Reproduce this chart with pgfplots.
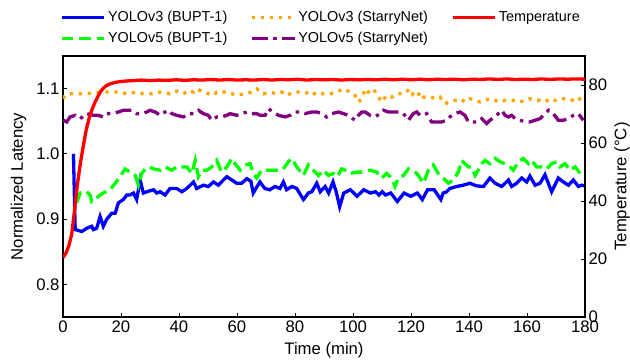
\documentclass[border=0pt]{standalone}
\usepackage{fontspec}
\setmainfont{Liberation Sans}
\usepackage{pgfplots}
\pgfplotsset{compat=1.18}
\definecolor{myorange}{RGB}{255,165,0}
\definecolor{mypurple}{RGB}{128,0,128}
\definecolor{mygreen}{RGB}{0,255,0}
\definecolor{myblue}{RGB}{0,0,255}
\definecolor{myred}{RGB}{255,0,0}
\newcommand{\lblfont}{\fontsize{16.7}{20}\selectfont}
\newcommand{\legfont}{\fontsize{14.4}{16}\selectfont}
\pgfplotsset{
  commonstyle/.style={
    at={(0pt,0pt)}, anchor=south west,
    scale only axis, width=522pt, height=261pt,
    xmin=0, xmax=180,
    tick align=inside, major tick length=4pt,
    tick style={black, line width=0.8pt},
    axis line style={line width=1.1pt},
    ticklabel style={font=\lblfont},
    label style={font=\lblfont},
    /pgf/number format/assume math mode=true,
  },
  lw/.style={line width=3.3pt},
}
\begin{document}
\begin{tikzpicture}
\useasboundingbox (-63pt,-43pt) rectangle (567pt,317pt);
\begin{axis}[commonstyle,
  ymin=0.75, ymax=1.15,
  xtick={0,20,...,180}, ytick={0.8,0.9,1.0,1.1},
  yticklabel style={/pgf/number format/.cd,fixed,fixed zerofill,precision=1},
  ytick pos=left, xtick pos=bottom,
  xlabel={Time (min)}, ylabel={Normalized Latency},
  xlabel style={at={(axis description cs:0.5,-0.1264)}, anchor=center},
  ylabel style={at={(axis description cs:-0.0852,0.5)}, anchor=center},
  legend columns=3,
  legend cell align=left,
  legend image code/.code={\draw[#1] (0pt,0pt) -- (32pt,0pt); \path (0pt,0pt) -- (42.7pt,0pt);},
  legend style={draw=none, fill=none, font=\legfont,
    at={(axis description cs:-0.006,1.180)}, anchor=north west,
    inner sep=0pt, row sep=5.3pt,
    /tikz/every even column/.append style={column sep=21pt}},
]
\addplot[myblue, lw] coordinates {
(3.6,1.000) (4.2,0.884) (6.5,0.881) (8.2,0.886) (9.9,0.889) (10.5,0.884) (11.6,0.886) (12.8,0.904) (13.9,0.889) (15.1,0.900)
(16.8,0.909) (18.0,0.909) (19.1,0.925) (20.8,0.930) (22.0,0.937) (23.1,0.937) (24.3,0.940) (25.4,0.930) (26.6,0.960) (27.7,0.940)
(28.9,0.942) (31.2,0.945) (32.3,0.940) (33.5,0.942) (35.2,0.937) (36.9,0.947) (39.2,0.947) (41.0,0.942) (42.7,0.947) (45.0,0.957)
(46.1,0.947) (48.4,0.952) (50.1,0.950) (51.9,0.957) (53.6,0.952) (55.3,0.960) (56.5,0.965) (58.2,0.960) (59.9,0.955) (61.6,0.955)
(63.4,0.962) (64.8,0.958) (65.6,0.940) (67.9,0.957) (69.6,0.947) (71.3,0.945) (73.1,0.950) (74.8,0.947) (76.0,0.957) (77.1,0.945)
(78.9,0.950) (80.6,0.947) (82.9,0.930) (84.6,0.940) (85.8,0.942) (87.5,0.955) (88.7,0.942) (90.4,0.950) (91.6,0.940) (93.1,0.957)
(94.2,0.942) (95.4,0.919) (96.8,0.940) (99.1,0.945) (101.4,0.935) (103.7,0.945) (106.0,0.940) (107.8,0.942) (108.9,0.937) (110.1,0.942)
(111.2,0.937) (113.0,0.940) (115.3,0.927) (117.6,0.940) (119.9,0.935) (122.2,0.940) (123.9,0.930) (125.7,0.945) (128.0,0.945) (130.3,0.930)
(131.1,0.940) (132.3,0.942) (133.4,0.947) (135.7,0.950) (138.0,0.952) (140.3,0.955) (142.6,0.951) (145.0,0.950) (147.2,0.963) (149.0,0.955)
(151.3,0.950) (153.6,0.960) (154.7,0.950) (156.4,0.955) (158.2,0.963) (159.9,0.957) (161.0,0.966) (162.8,0.952) (164.5,0.955) (166.2,0.968)
(168.5,0.942) (170.8,0.963) (172.5,0.957) (174.3,0.952) (176.0,0.960) (177.7,0.950) (178.9,0.952) (179.7,0.951)
};
\addlegendentry{YOLOv3 (BUPT-1)}
\addplot[myorange, lw, dash pattern=on 3.3pt off 5.6pt] coordinates {
(0,1.0846) (0.7,1.0896) (2.4,1.092) (5.9,1.092) (10.5,1.093) (13.9,1.0947) (17.4,1.0947) (19.7,1.0947) (22,1.092) (25.4,1.0947)
(27.7,1.092) (30.6,1.092) (33.5,1.0947) (36.9,1.092) (39.2,1.0962) (41.5,1.092) (43.3,1.0973) (45,1.0947) (46.1,1.0998) (48.4,1.0947)
(51.9,1.0896) (53,1.0947) (56.5,1.0947) (59.9,1.0896) (62.2,1.092) (65.1,1.0947) (66.8,1.0998) (69.1,1.092) (71.4,1.0947) (73.7,1.092)
(75.4,1.0947) (77.1,1.0896) (79.4,1.0947) (81.7,1.0947) (83.5,1.0947) (85.8,1.0896) (87.5,1.0947) (89.8,1.092) (92.1,1.092) (94.4,1.0947)
(95.5,1.0973) (96.7,1.0998) (99,1.0947) (100.7,1.0896) (101.9,1.0795) (103,1.0846) (104.2,1.0998) (105.3,1.0947) (107,1.0998) (108.8,1.087)
(109.9,1.0795) (111.6,1.0896) (113.4,1.087) (115.1,1.092) (117.4,1.092) (119.7,1.0998) (120.8,1.0896) (122,1.087) (123.1,1.0947) (124.3,1.087)
(126.6,1.087) (128.9,1.0846) (130,1.087) (131.7,1.077) (133.4,1.0795) (135.2,1.082) (136.9,1.0846) (138.6,1.0795) (140.3,1.0846) (142.1,1.082)
(143.8,1.0795) (145.5,1.082) (147.2,1.0846) (149,1.082) (150.7,1.0795) (152.4,1.082) (154.1,1.082) (155.9,1.082) (157.6,1.0795) (159.3,1.082)
(161,1.0846) (162.8,1.082) (164.5,1.082) (166.2,1.0795) (167.9,1.0846) (169.7,1.082) (171.4,1.0846) (173.1,1.0846) (174.8,1.0846) (176.6,1.0795)
(178.3,1.0846) (179.7,1.087)
};
\addlegendentry{YOLOv3 (StarryNet)}
\addlegendimage{myred, lw}
\addlegendentry{Temperature}
\addplot[mygreen, lw, dash pattern=on 11.7pt off 5.7pt] coordinates {
(4.7,0.925) (5.9,0.940) (7.0,0.942) (8.2,0.942) (9.3,0.937) (9.9,0.927) (11.1,0.930) (12.2,0.935) (13.9,0.940) (16.2,0.945)
(18.0,0.955) (19.7,0.965) (21.4,0.977) (23.1,0.972) (24.9,0.967) (26.0,0.952) (27.2,0.970) (28.3,0.977) (29.5,0.980) (31.2,0.977)
(33.5,0.975) (35.2,0.980) (37.5,0.975) (39.2,0.980) (41.0,0.980) (42.7,0.980) (44.4,0.970) (45.6,0.990) (46.7,0.965) (47.9,0.975)
(49.6,0.975) (51.3,0.980) (53.0,0.990) (54.7,0.972) (56.5,0.980) (58.2,0.993) (59.3,0.985) (61.1,0.975) (62.8,0.983) (64.5,0.985)
(65.6,0.970) (66.8,0.963) (68.5,0.975) (71.4,0.975) (73.7,0.975) (76.0,0.977) (77.7,0.988) (78.9,0.993) (80.6,0.980) (82.9,0.967)
(84.6,0.983) (86.3,0.975) (88.1,0.967) (89.8,0.975) (91.5,0.967) (93.2,0.970) (94.6,0.965) (96.1,0.977) (97.3,0.975) (99.0,0.970)
(101.3,0.972) (103.6,0.972) (105.9,0.975) (108.2,0.972) (109.9,0.963) (111.6,0.970) (113.3,0.963) (114.5,0.950) (115.6,0.963) (117.4,0.967)
(119.1,0.977) (120.2,0.975) (122.0,0.970) (123.1,0.963) (124.3,0.955) (126.0,0.975) (127.7,0.983) (129.4,0.970) (131.1,0.963) (132.9,0.955)
(134.6,0.960) (136.3,0.972) (137.5,0.990) (138.6,0.985) (139.8,0.980) (140.9,0.980) (142.1,0.967) (143.2,0.975) (144.4,0.985) (145.5,0.990)
(147.2,0.985) (149.0,0.993) (150.7,0.988) (152.4,0.985) (154.1,0.980) (155.3,0.975) (157.0,0.988) (158.7,0.993) (160.5,0.985) (161.6,0.990)
(163.3,0.980) (165.1,0.980) (166.8,0.977) (168.5,0.985) (170.2,0.988) (171.4,0.980) (173.1,0.985) (174.8,0.975) (176.6,0.980) (178.3,0.970)
(179.7,0.967)
};
\addlegendentry{YOLOv5 (BUPT-1)}
\addplot[mypurple, lw, dash pattern=on 16pt off 5.5pt on 3.3pt off 5.5pt] coordinates {
(0,1.0515) (1.3,1.049) (2.4,1.0566) (4.2,1.0591) (5.9,1.054) (8.2,1.0617) (10.5,1.0591) (12.2,1.0591) (13.9,1.0566) (15.1,1.0617)
(16.8,1.0617) (19.1,1.0642) (20.8,1.0668) (23.7,1.0668) (25.4,1.0617) (27.2,1.0617) (28.9,1.0642) (30,1.0668) (31.8,1.0642) (33.5,1.0591)
(35.2,1.0642) (36.4,1.0668) (37.5,1.0617) (39.2,1.0591) (41.5,1.0566) (43.3,1.0617) (45,1.0617) (46.7,1.0668) (48.4,1.0617) (50.1,1.0591)
(51.3,1.0515) (53,1.0566) (54.7,1.0566) (56.5,1.0591) (57.6,1.0617) (59.9,1.0591) (61.6,1.0617) (63.4,1.0642) (65.1,1.0617) (66.8,1.0617)
(68,1.0591) (69.7,1.0591) (70.8,1.0693) (72.5,1.0642) (74.3,1.0591) (76.6,1.0566) (78.3,1.0591) (80,1.0642) (81.7,1.0642) (83.5,1.0617)
(85.8,1.0642) (87.5,1.0642) (89.2,1.0617) (90.9,1.0566) (92.7,1.0617) (95,1.0642) (96.7,1.0617) (98.4,1.0591) (100.7,1.0515) (101.9,1.0591)
(103,1.0642) (104.2,1.0642) (105.9,1.0591) (107.6,1.0566) (109.3,1.0617) (110.5,1.0668) (112.2,1.0642) (113.9,1.0642) (116.2,1.0642) (117.4,1.0617)
(119.1,1.0515) (120.8,1.0617) (122,1.0642) (123.1,1.0591) (124.3,1.0591) (125.4,1.0617) (127.1,1.049) (128.9,1.049) (130.6,1.049) (132.3,1.0515)
(133.4,1.0566) (135.2,1.0617) (136.9,1.0642) (138.6,1.0591) (139.8,1.049) (141.5,1.049) (143.2,1.049) (144.4,1.054) (146.1,1.0465) (147.2,1.0515)
(149,1.0566) (151.3,1.0668) (152.4,1.0591) (153.6,1.0566) (154.7,1.0591) (155.9,1.054) (157.6,1.0515) (159.3,1.049) (161,1.049) (162.8,1.0515)
(164.5,1.054) (166.2,1.0617) (167.4,1.0668) (169.1,1.0617) (170.8,1.0515) (172.5,1.0515) (174.3,1.054) (176,1.0591) (177.7,1.0617) (179.4,1.0515)
};
\addlegendentry{YOLOv5 (StarryNet)}
\end{axis}
\begin{axis}[commonstyle,
  ymin=0, ymax=90,
  axis y line*=right, axis x line=none,
  ytick={0,20,...,80},
  ylabel={Temperature (°C)},
  ylabel style={at={(axis description cs:1.071,0.5)}, anchor=center},
]
\addplot[myred, lw] coordinates {
(0,20.5) (1,22) (2,24.5) (3,28.5) (4,37) (5,46) (6,53) (7,59) (8,64.5) (9,68.5) (10,71.5) (11,74) (12,76) (13,77.8)
(14,79) (15,79.8) (16,80.3) (17,80.6) (18,80.9) (20,81.2) (22,81.4) (24,81.5) (27,81.7) (30,81.5) (33,81.7) (36,81.6)
(39,81.8) (42,81.6) (45,81.8) (48,81.7) (51,81.9) (54,81.7) (57,81.9) (60,81.7) (63,81.8) (66,81.7) (69,81.9) (72,81.7)
(75,81.9) (78,81.8) (81,82.0) (84,81.7) (87,81.9) (90,81.8) (93,81.9) (96,81.7) (99,81.9) (102,81.8) (105,81.9) (108,81.8)
(111,82.0) (114,81.8) (117,82.0) (120,81.8) (123,82.0) (126,81.8) (129,82.0) (132,81.9) (135,82.0) (138,81.8) (141,82.0) (144,81.9)
(147,82.1) (150,81.9) (153,82.1) (156,81.9) (159,82.0) (162,81.9) (165,82.1) (168,81.9) (171,82.1) (174,82.0) (177,82.1) (180,82.0)
};
\end{axis}
\end{tikzpicture}
\end{document}
